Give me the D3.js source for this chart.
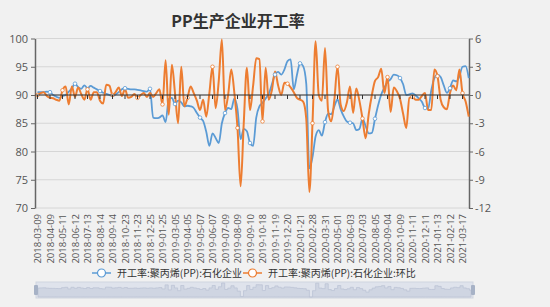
<!DOCTYPE html>
<html>
<head>
<meta charset="utf-8">
<script src="https://cdn.jsdelivr.net/npm/d3@7"></script>
<style>
  html, body { margin: 0; padding: 0; background: #f1f1f1; }
  svg { display: block; font-family: "Noto Sans CJK SC", "Noto Sans", sans-serif; }
</style>
</head>
<body>
<div id="chart"></div>
<script>
// tick labels on the category axis, one every 4 data points
const tickLabels = [
  "2018-03-09", "2018-04-09", "2018-05-11", "2018-06-12", "2018-07-13", "2018-08-14",
  "2018-09-14", "2018-10-23", "2018-11-23", "2018-12-25", "2019-01-25", "2019-03-05",
  "2019-04-05", "2019-05-07", "2019-06-07", "2019-07-09", "2019-08-09", "2019-09-10",
  "2019-10-18", "2019-11-19", "2019-12-20", "2020-01-21", "2020-02-28", "2020-03-31",
  "2020-05-01", "2020-06-03", "2020-07-03", "2020-08-05", "2020-09-04", "2020-10-09",
  "2020-11-11", "2020-12-11", "2021-01-13", "2021-02-12", "2021-03-17"
];
const pointsPerTick = 4;

const seriesNames = ["开工率:聚丙烯(PP):石化企业", "开工率:聚丙烯(PP):石化企业:环比"];

// 开工率 (left axis, %)
const rate = [
  90.5, 90.5, 90.5, 90.6, 90.5, 90.0, 89.7, 89.5, 89.8, 90.0,
  90.6, 91.2, 92.0, 91.4, 91.1, 91.7, 91.2, 91.6, 91.3, 91.0,
  90.7, 90.4, 90.2, 90.0, 89.8, 90.1, 90.5, 91.0, 91.2, 91.1,
  91.0, 91.0, 90.9, 90.8, 90.7, 90.6, 91.1, 86.0, 85.9, 86.0,
  86.4, 85.2, 89.3, 89.5, 88.4, 89.0, 88.7, 88.0, 88.1, 88.0,
  87.7, 86.8, 86.0, 85.4, 83.5, 81.0, 83.2, 82.4, 81.5, 85.0,
  86.8, 87.7, 87.5, 89.4, 87.5, 82.2, 84.0, 83.6, 81.5, 81.0,
  86.0, 88.0, 88.6, 89.4, 90.2, 91.9, 93.6, 94.1, 93.6, 94.5,
  96.0, 96.3, 91.0, 93.5, 95.6, 95.1, 92.0, 77.0, 79.0, 82.7,
  83.8, 82.8, 85.2, 86.7, 86.6, 88.0, 89.2, 87.5, 86.2, 85.3,
  85.1, 85.0, 83.8, 84.0, 85.8, 84.5, 83.2, 83.3, 85.8, 88.2,
  90.1, 91.3, 92.3, 92.8, 93.6, 93.5, 93.0, 91.9, 90.0, 90.1,
  90.3, 89.9, 89.4, 88.8, 87.7, 87.6, 90.8, 93.0, 93.6, 93.2,
  91.7, 90.4, 91.2, 92.6, 92.4, 93.3, 95.0, 95.1, 93.0
];

// 环比 (right axis, percentage points)
const change = [
  0.0, 0.2, 0.3, -0.1, -0.3, -0.35, -0.5, -0.6, 0.5, 0.9,
  -1.0, 0.9, -0.2, 0.8, 0.1, -0.5, 0.6, -0.5, 0.3, 0.3,
  -0.6, -0.9, 1.1, 1.0, 0.0, 0.3, 0.8, -0.1, 0.6, -0.3,
  -0.2, 0.1, -0.3, 0.0, 0.2, -0.2, 0.2, -0.2, 0.2, 0.6,
  -1.0, 3.7, -2.1, 3.2, 0.2, -3.0, 3.0, -1.2, -0.3, 0.9,
  0.2, -0.6, -1.6, -0.5, -2.3, 0.2, 3.0, -1.4, 1.5, 5.9,
  -1.6, 0.0, 2.7, 0.2, -3.5, -9.7, -3.0, 2.9, -1.6, 1.0,
  3.9, 3.8, -2.8, 2.9, -0.5, 0.5, 2.5, 1.0, 0.0, 1.3,
  1.2, 0.8, 0.3, -0.3, -0.5, -0.7, -2.5, -10.3, -3.0, 5.7,
  0.0, -0.6, 5.0, -1.7, -2.8, -0.5, 3.0, -1.0, -1.7, -0.8,
  0.9, -1.9, 0.7, -0.6, -2.5, -4.6, -2.0, 0.0, 1.5, 1.9,
  2.8, 0.2, 1.9, -1.8, 0.8, 0.4, -0.4, -2.0, -3.5, -0.3,
  -0.2, -0.5, -0.5, -0.1, 0.2, -1.6, -1.6, 2.7, 2.0, -0.5,
  -1.3, -1.5, 0.2, 1.0, 0.5, 2.7, 0.2, -0.7, -2.3
];

const leftTicks = [70, 75, 80, 85, 90, 95, 100];
const rightTicks = [-12, -9, -6, -3, 0, 3, 6];

const colors = ["#5b9bd5", "#ed7d31"];

const width = 550, height = 307;
const plotLeft = 35, plotRight = 469, plotTop = 38.5, plotBottom = 208;

const svg = d3.select("#chart").append("svg")
  .attr("width", width)
  .attr("height", height);

svg.append("rect").attr("width", width).attr("height", height).attr("fill", "#f1f1f1");

const lastTick = (tickLabels.length - 1) * pointsPerTick;
const x = d3.scaleLinear().domain([0, lastTick]).range([37.5, 462.5]);
const yL = d3.scaleLinear().domain([70, 100]).range([plotBottom, plotTop]);
const yR = d3.scaleLinear().domain([-12, 6]).range([plotBottom, plotTop]);

// title
svg.append("text")
  .attr("x", 238).attr("y", 27)
  .attr("text-anchor", "middle")
  .attr("font-size", 16).attr("font-weight", "bold")
  .attr("fill", "#333")
  .text("PP生产企业开工率");

// horizontal grid
svg.append("g").selectAll("line")
  .data(leftTicks)
  .join("line")
  .attr("x1", plotLeft).attr("x2", plotRight)
  .attr("y1", d => yL(d)).attr("y2", d => yL(d))
  .attr("stroke", "#d6d6d6").attr("stroke-width", 1);

// left axis
const gLeft = svg.append("g")
  .attr("transform", `translate(${plotLeft},0)`)
  .call(d3.axisLeft(yL).tickValues(leftTicks).tickSize(4).tickSizeOuter(0).tickPadding(3));
gLeft.select(".domain").attr("stroke", "#666").attr("stroke-width", 1.5);
gLeft.selectAll(".tick line").attr("stroke", "#666");
gLeft.selectAll("text").attr("font-size", 11).attr("fill", "#555")
  .attr("font-family", "'Open Sans', 'Noto Sans', sans-serif");

// right axis
const gRight = svg.append("g")
  .attr("transform", `translate(${plotRight},0)`)
  .call(d3.axisRight(yR).tickValues(rightTicks).tickSize(4).tickSizeOuter(0).tickPadding(2)
    .tickFormat(d => d < 0 ? "-" + Math.abs(d) : d));
gRight.select(".domain").attr("stroke", "#666").attr("stroke-width", 1.5);
gRight.selectAll(".tick line").attr("stroke", "#666");
gRight.selectAll("text").attr("font-size", 11).attr("fill", "#555")
  .attr("font-family", "'Open Sans', 'Noto Sans', sans-serif");

// lines
const lineL = d3.line().x((d, i) => x(i)).y(d => yL(d)).curve(d3.curveMonotoneX);
const lineR = d3.line().x((d, i) => x(i)).y(d => yR(d)).curve(d3.curveMonotoneX);

svg.append("path").datum(rate)
  .attr("fill", "none").attr("stroke", colors[0]).attr("stroke-width", 1.8)
  .attr("d", lineL);

svg.append("path").datum(change)
  .attr("fill", "none").attr("stroke", colors[1]).attr("stroke-width", 2)
  .attr("d", lineR);

// sparse hollow markers, like the sampled symbols of the original
svg.append("g").selectAll("circle")
  .data(rate.map((v, i) => [i, v]).filter(d => d[0] % 8 === 4))
  .join("circle")
  .attr("cx", d => x(d[0])).attr("cy", d => yL(d[1])).attr("r", 1.8)
  .attr("fill", "#fff").attr("stroke", colors[0]).attr("stroke-width", 0.8);

svg.append("g").selectAll("circle")
  .data(change.map((v, i) => [i, v]).filter(d => d[0] % 8 === 0))
  .join("circle")
  .attr("cx", d => x(d[0])).attr("cy", d => yR(d[1])).attr("r", 1.8)
  .attr("fill", "#fff").attr("stroke", colors[1]).attr("stroke-width", 0.8);

// category axis sits on the zero of the right axis
const zeroY = yR(0);
svg.append("line")
  .attr("x1", plotLeft).attr("x2", plotRight)
  .attr("y1", zeroY).attr("y2", zeroY)
  .attr("stroke", "#333").attr("stroke-width", 1);

svg.append("g").selectAll("line")
  .data(tickLabels)
  .join("line")
  .attr("x1", (d, i) => x(i * pointsPerTick)).attr("x2", (d, i) => x(i * pointsPerTick))
  .attr("y1", zeroY).attr("y2", zeroY + 4)
  .attr("stroke", "#333");

// rotated date labels at the bottom
svg.append("g").selectAll("text")
  .data(tickLabels)
  .join("text")
  .attr("transform", (d, i) => `translate(${x(i * pointsPerTick) + 3.5},214) rotate(-90)`)
  .attr("text-anchor", "end")
  .attr("font-size", 9.5)
  .attr("fill", "#555")
  .attr("font-family", "'Open Sans', 'Noto Sans', sans-serif")
  .text(d => d);

// legend
const legendX = [92, 243];
const legend = svg.append("g").selectAll("g")
  .data(seriesNames)
  .join("g")
  .attr("transform", (d, i) => `translate(${legendX[i]},273)`);
legend.append("line")
  .attr("x1", 0).attr("x2", 19).attr("y1", 0).attr("y2", 0)
  .attr("stroke", (d, i) => colors[i]).attr("stroke-width", 1.5);
legend.append("circle")
  .attr("cx", 9.5).attr("cy", 0).attr("r", 4)
  .attr("fill", "#fff").attr("stroke", (d, i) => colors[i]).attr("stroke-width", 1.2);
legend.append("text")
  .attr("x", 25).attr("y", 3.5)
  .attr("font-size", 10).attr("fill", "#333")
  .text(d => d);

// data zoom slider
const sliderTop = 282, sliderH = 16, sliderL = 36, sliderR = 473;
svg.append("rect")
  .attr("x", sliderL).attr("y", sliderTop).attr("width", sliderR - sliderL).attr("height", sliderH)
  .attr("fill", "#dfe3ec").attr("stroke", "#d0d5df");

const xs = d3.scaleLinear().domain([0, rate.length - 1]).range([sliderL + 2, sliderR - 2]);
const ys = d3.scaleLinear().domain(d3.extent(change)).range([sliderTop + sliderH - 1, sliderTop + 1]);
svg.append("path").datum(change)
  .attr("fill", "#cad1e0").attr("fill-opacity", 0.8)
  .attr("stroke", "#bcc4d6").attr("stroke-width", 0.8)
  .attr("d", d3.area().x((d, i) => xs(i)).y0(sliderTop + sliderH - 1).y1(d => ys(d)).curve(d3.curveStep));

[sliderL, sliderR].forEach(hx => {
  svg.append("rect")
    .attr("x", hx - 2).attr("y", sliderTop + 3).attr("width", 4).attr("height", sliderH - 6)
    .attr("fill", "#a7b2c6").attr("rx", 1);
});
</script>
</body>
</html>
